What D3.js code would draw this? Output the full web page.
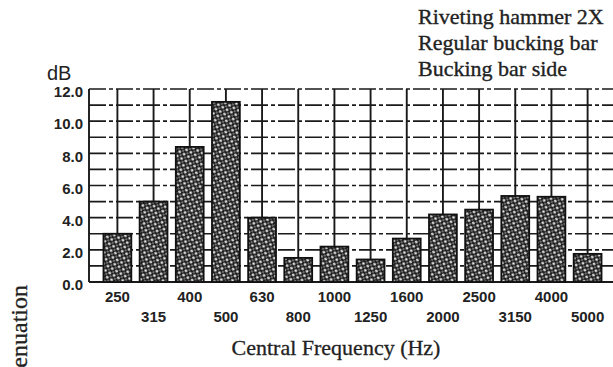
<!DOCTYPE html>
<html>
<head>
<meta charset="utf-8">
<script src="https://cdn.jsdelivr.net/npm/d3@7"></script>
<style>
body{margin:0;background:#fff;}
svg{display:block;}
</style>
</head>
<body>
<div id="chart-area"></div>
<script>
// data
let freqs=["250","315","400","500","630","800","1000","1250","1600","2000","2500","3150","4000","5000"];
let attenuation=[3.0,5.0,8.4,11.2,4.0,1.5,2.2,1.4,2.7,4.2,4.5,5.35,5.3,1.75];
let yTicks=[0,2,4,6,8,10,12];
let yGrid=[0,1,2,3,4,5,6,7,8,9,10,11,12];
let legendLines=["Riveting hammer 2X","Regular bucking bar","Bucking bar side"];

let W=613,H=367;
let plot={left:89,right:616,top:89,bottom:282};

let svg=d3.select("#chart-area").append('svg')
	.attr('width',W)
	.attr('height',H);

//---------PATTERN--------------
let defs=svg.append('defs');
let pat=defs.append('pattern')
	.attr('id','hatch')
	.attr('patternUnits','userSpaceOnUse')
	.attr('width',5)
	.attr('height',5)
	.attr('patternTransform','rotate(30)');
pat.append('rect').attr('width',5).attr('height',5).attr('fill','#1e1e1e');
pat.append('circle').attr('cx',1.5).attr('cy',1.5).attr('r',1.35).attr('fill','#f2f2f2');
pat.append('circle').attr('cx',4).attr('cy',4).attr('r',0.8).attr('fill','#cfcfcf');

//---------SCALES--------------
let x=d3.scaleBand()
	.domain(freqs)
	.range([plot.left,plot.right])
	.paddingInner(0.23)
	.paddingOuter(0.4);

let y=d3.scaleLinear()
	.domain([0,12])
	.range([plot.bottom,plot.top]);

//---------GRID--------------
let grid=svg.append('g');
grid.selectAll('.hline').data(yGrid.filter(d=>d>0)).enter()
	.append('line')
	.attr('x1',plot.left).attr('x2',plot.right)
	.attr('y1',d=>y(d)).attr('y2',d=>y(d))
	.attr('stroke','#1a1a1a')
	.attr('stroke-width',1.7)
	.attr('stroke-dasharray','17,3,4,3');

grid.selectAll('.vline').data(freqs).enter()
	.append('line')
	.attr('x1',d=>x(d)+x.bandwidth()/2).attr('x2',d=>x(d)+x.bandwidth()/2)
	.attr('y1',plot.top).attr('y2',plot.bottom)
	.attr('stroke','#1a1a1a')
	.attr('stroke-width',1.9);

// left border and baseline
grid.append('line').attr('x1',plot.left).attr('x2',plot.left).attr('y1',plot.top).attr('y2',plot.bottom)
	.attr('stroke','#1a1a1a').attr('stroke-width',1.9);
grid.append('line').attr('x1',plot.left).attr('x2',plot.right).attr('y1',plot.bottom).attr('y2',plot.bottom)
	.attr('stroke','#1a1a1a').attr('stroke-width',1.9);

//---------BARS--------------
svg.selectAll('.bar').data(attenuation).enter()
	.append('rect')
	.attr('x',(d,i)=>x(freqs[i]))
	.attr('y',d=>y(d))
	.attr('width',x.bandwidth())
	.attr('height',d=>plot.bottom-y(d))
	.attr('fill','url(#hatch)')
	.attr('stroke','#111')
	.attr('stroke-width',1.8);

//-------AXES------------------
let yAxis=d3.axisLeft(y)
	.tickValues(yTicks)
	.tickSize(0)
	.tickPadding(6)
	.tickFormat(d3.format('.1f'));

let yAxisGroup=svg.append('g')
	.attr('transform','translate('+plot.left+',3)')
	.call(yAxis);
yAxisGroup.select('.domain').remove();
yAxisGroup.selectAll('text')
	.attr('font-family','"Liberation Sans", Arial, sans-serif')
	.attr('font-weight','bold')
	.attr('font-size','15px')
	.attr('fill','#222');

let xAxis=d3.axisBottom(x).tickSize(0).tickPadding(0);
let xAxisGroup=svg.append('g')
	.attr('transform','translate(0,'+plot.bottom+')')
	.call(xAxis);
xAxisGroup.select('.domain').remove();
xAxisGroup.selectAll('text')
	.attr('font-family','"Liberation Sans", Arial, sans-serif')
	.attr('font-weight','bold')
	.attr('font-size','15px')
	.attr('fill','#222')
	.attr('dy',null)
	.attr('y',(d,i)=>i%2==0?20:40);

//------LABELS----------------
svg.append('text')
	.attr('x',47)
	.attr('y',80)
	.attr('font-family','"Liberation Sans", Arial, sans-serif')
	.attr('font-size','20px')
	.attr('fill','#222')
	.text('dB');

svg.append('text')
	.attr('x',336)
	.attr('y',355)
	.attr('text-anchor','middle')
	.attr('font-family','"Liberation Serif", "Times New Roman", serif')
	.attr('font-size','22px')
	.attr('fill','#222')
	.attr('stroke','#222')
	.attr('stroke-width',0.3)
	.text('Central Frequency (Hz)');

svg.append('text')
	.attr('transform','rotate(-90)')
	.attr('x',-285)
	.attr('y',27)
	.attr('text-anchor','end')
	.attr('font-family','"Liberation Serif", "Times New Roman", serif')
	.attr('font-size','24px')
	.attr('fill','#222')
	.attr('stroke','#222')
	.attr('stroke-width',0.3)
	.text('Attenuation');

//--------LEGEND TEXT--------------
svg.selectAll('.legend').data(legendLines).enter()
	.append('text')
	.attr('x',418)
	.attr('y',(d,i)=>24+i*26)
	.attr('font-family','"Liberation Serif", "Times New Roman", serif')
	.attr('font-size','22px')
	.attr('fill','#222')
	.attr('stroke','#222')
	.attr('stroke-width',0.35)
	.text(d=>d);
</script>
</body>
</html>
